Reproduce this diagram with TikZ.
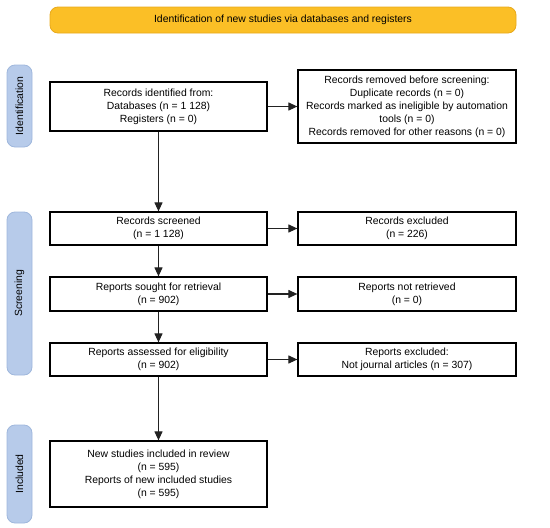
\documentclass[tikz,border=0pt]{standalone}
\usepackage{fontspec}
\setmainfont{Liberation Sans}
\usetikzlibrary{arrows.meta}
\definecolor{bannerfill}{HTML}{FBBF26}
\definecolor{bannerdraw}{HTML}{E8A91C}
\definecolor{sidefill}{HTML}{B7CBEA}
\definecolor{sidedraw}{HTML}{9FB7DC}
\definecolor{linecol}{HTML}{222222}
\tikzset{
  box/.style={draw=black, line width=1.2pt, fill=white, rectangle, align=center,
    font=\fontsize{10.4}{13}\selectfont, inner sep=0pt},
  banner/.style={draw=bannerdraw, line width=0.8pt, fill=bannerfill, rounded corners=8pt,
    minimum width=466pt, minimum height=26pt, font=\fontsize{10.4}{13}\selectfont, inner sep=0pt},
  side/.style={draw=sidedraw, line width=0.8pt, fill=sidefill, rounded corners=8pt,
    minimum width=25pt, inner sep=0pt},
  sidetext/.style={rotate=90, font=\fontsize{10.4}{13}\selectfont, inner sep=0pt},
  conn/.style={draw=linecol, line width=1.1pt, -{Triangle[length=9pt,width=8pt]}}
}
\begin{document}
\begin{tikzpicture}[x=1pt,y=-1pt]
\useasboundingbox (0,0) rectangle (550,528);
\node[banner] (ban) at (283,20) {Identification of new studies via databases and registers};
\node[side, minimum height=82pt] (sid) at (19.5,106) {};
\node[sidetext] (sidt) at (sid.center) {Identification};
\node[side, minimum height=163pt] (ssc) at (19.5,293.5) {};
\node[sidetext] (ssct) at (ssc.center) {Screening};
\node[side, minimum height=98pt] (sin) at (19.5,474) {};
\node[sidetext] (sint) at (sin.center) {Included};

\node[box, minimum width=217pt, minimum height=49pt] (ident) at (158.5,106.5)
  {Records identified from:\\Databases (n = 1 128)\\Registers (n = 0)};
\node[box, minimum width=218pt, minimum height=73pt] (removed) at (407,106.5)
  {Records removed before screening:\\Duplicate records (n = 0)\\Records marked as ineligible by automation\\tools (n = 0)\\Records removed for other reasons (n = 0)};
\node[box, minimum width=217pt, minimum height=33pt] (screened) at (158.5,228.5)
  {Records screened\\(n = 1 128)};
\node[box, minimum width=218pt, minimum height=33pt] (excluded) at (407,228.5)
  {Records excluded\\(n = 226)};
\node[box, minimum width=217pt, minimum height=34pt] (sought) at (158.5,294)
  {Reports sought for retrieval\\(n = 902)};
\node[box, minimum width=218pt, minimum height=34pt] (notret) at (407,294)
  {Reports not retrieved\\(n = 0)};
\node[box, minimum width=217pt, minimum height=33pt] (assessed) at (158.5,359.5)
  {Reports assessed for eligibility\\(n = 902)};
\node[box, minimum width=218pt, minimum height=33pt] (repexcl) at (407,359.5)
  {Reports excluded:\\Not journal articles (n = 307)};
\node[box, minimum width=217pt, minimum height=66pt] (included) at (158.5,474)
  {New studies included in review\\(n = 595)\\Reports of new included studies\\(n = 595)};

\draw[conn] (ident) -- (removed);
\draw[conn] (ident) -- (screened);
\draw[conn] (screened) -- (excluded);
\draw[conn] (screened) -- (sought);
\draw[conn] (sought) -- (notret);
\draw[conn] (sought) -- (assessed);
\draw[conn] (assessed) -- (repexcl);
\draw[conn] (assessed) -- (included);
\end{tikzpicture}
\end{document}
